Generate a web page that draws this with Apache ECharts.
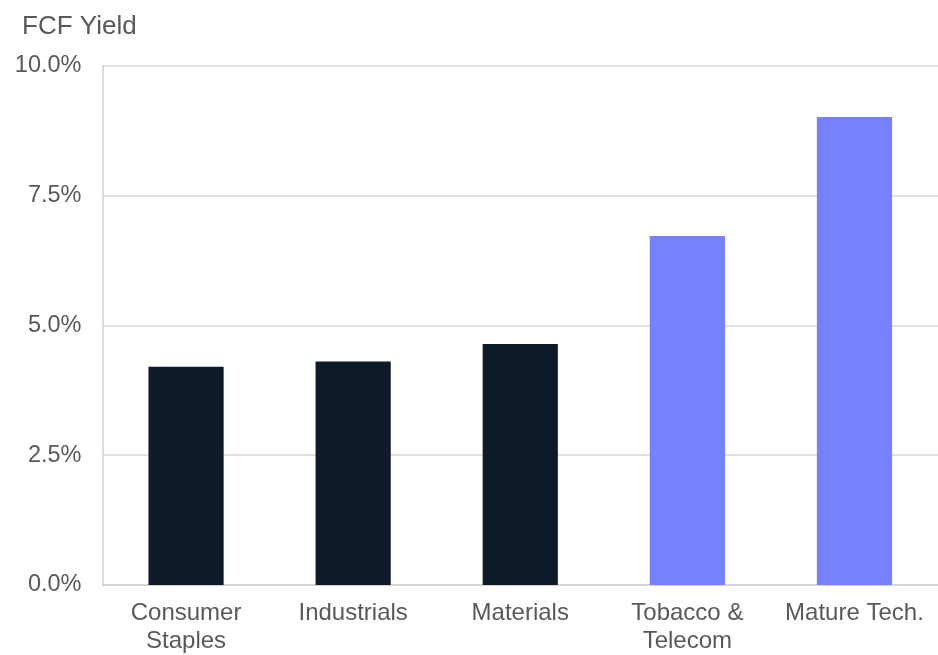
<!DOCTYPE html>
<html>
<head>
<meta charset="utf-8">
<script src="https://cdn.jsdelivr.net/npm/echarts@6/dist/echarts.min.js"></script>
<style>
html,body{margin:0;padding:0;background:#fff;overflow:hidden;}
#chart{width:938px;height:655px;}
</style>
</head>
<body>
<div id="chart"></div>
<script>
var categories = ['Consumer\nStaples', 'Industrials', 'Materials', 'Tobacco &\nTelecom', 'Mature Tech.'];
var fcfYield = [4.2, 4.3, 4.64, 6.72, 9.01];
var highlighted = [false, false, false, true, true];
var yTicks = [0, 2.5, 5, 7.5, 10];

var DARK = '#0e1a28';
var BLUE = '#7581fd';
var TEXT = '#595959';

var chart = echarts.init(document.getElementById('chart'), null, {renderer: 'canvas', width: 938, height: 655});
chart.setOption({
  animation: false,
  backgroundColor: '#fff',
  title: {
    text: 'FCF Yield',
    left: 17,
    top: 9,
    textStyle: {fontFamily: 'Liberation Sans', fontSize: 26, fontWeight: 'normal', color: TEXT}
  },
  grid: {left: 102.5, right: -4, top: 65.5, bottom: 67.5, containLabel: false},
  xAxis: {
    type: 'category',
    data: categories,
    axisLine: {show: true, lineStyle: {color: '#d0d0d0', width: 1.5}},
    axisTick: {show: false},
    axisLabel: {
      interval: 0,
      margin: 14,
      fontFamily: 'Liberation Sans',
      fontSize: 24,
      lineHeight: 28,
      color: TEXT
    }
  },
  yAxis: {
    type: 'value',
    min: yTicks[0],
    max: yTicks[yTicks.length - 1],
    interval: yTicks[1] - yTicks[0],
    axisLine: {show: true, lineStyle: {color: '#d0d0d0', width: 1.5}},
    axisTick: {show: false},
    splitLine: {show: true, lineStyle: {color: '#d9d9d9', width: 1.5}},
    axisLabel: {
      margin: 21,
      fontFamily: 'Liberation Sans',
      fontSize: 23.5,
      color: TEXT,
      formatter: function (v) { return v.toFixed(1) + '%'; }
    }
  },
  series: [{
    type: 'bar',
    barWidth: '45%',
    data: fcfYield.map(function (v, i) {
      return {value: v, itemStyle: {color: highlighted[i] ? BLUE : DARK}};
    })
  }]
});
</script>
</body>
</html>
